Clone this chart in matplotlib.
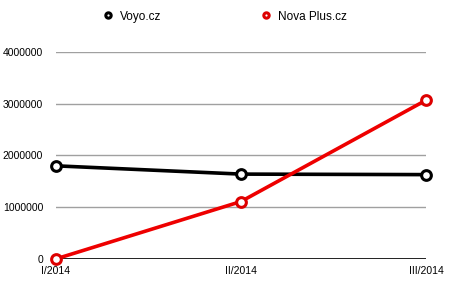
import matplotlib
matplotlib.use('Agg')
from matplotlib import pyplot as plt

# Данные
quarters = ['I/2014', 'II/2014', 'III/2014']
voyo = [1800000, 1640000, 1630000]
nova_plus = [0, 1110000, 3070000]
y_ticks = [0, 1000000, 2000000, 3000000, 4000000]

plt.rcParams['font.family'] = ['Liberation Sans', 'DejaVu Sans']
plt.rcParams['font.size'] = 7.5

fig = plt.figure(figsize=(4.5, 2.89), dpi=100)
ax = fig.add_axes([0.124, 0.104, 0.823, 0.716])

x = range(len(quarters))
ax.plot(x, voyo, color='black', lw=2.6, marker='o', ms=7, mfc='white', mew=2.2,
        mec='black', label='Voyo.cz', zorder=3, clip_on=False)
ax.plot(x, nova_plus, color='#ee0000', lw=2.6, marker='o', ms=7, mfc='white', mew=2.2,
        mec='#dd0000', label='Nova Plus.cz', zorder=4, clip_on=False)

ax.set_xlim(0, len(quarters) - 1)
ax.set_ylim(0, 4000000)
ax.set_xticks(list(x))
ax.set_xticklabels(quarters)
ax.set_yticks(y_ticks)
ax.set_yticklabels([str(v) for v in y_ticks])
ax.tick_params(length=0)
ax.tick_params(axis='y', pad=9)
ax.tick_params(axis='x', pad=5)

ax.grid(axis='y', color='#a0a0a0', lw=1)
ax.axhline(0, color='black', lw=1.2, zorder=2)
for s in ax.spines.values():
    s.set_visible(False)

leg = fig.legend(loc='upper center', bbox_to_anchor=(0.5, 1.0), ncol=2, frameon=False,
                 markerscale=0.55, handlelength=0.8, handletextpad=0.6,
                 columnspacing=8.5, fontsize=8.5)
for h in leg.legend_handles:
    h.set_linestyle('none')

plt.savefig('out.png', dpi=100)
